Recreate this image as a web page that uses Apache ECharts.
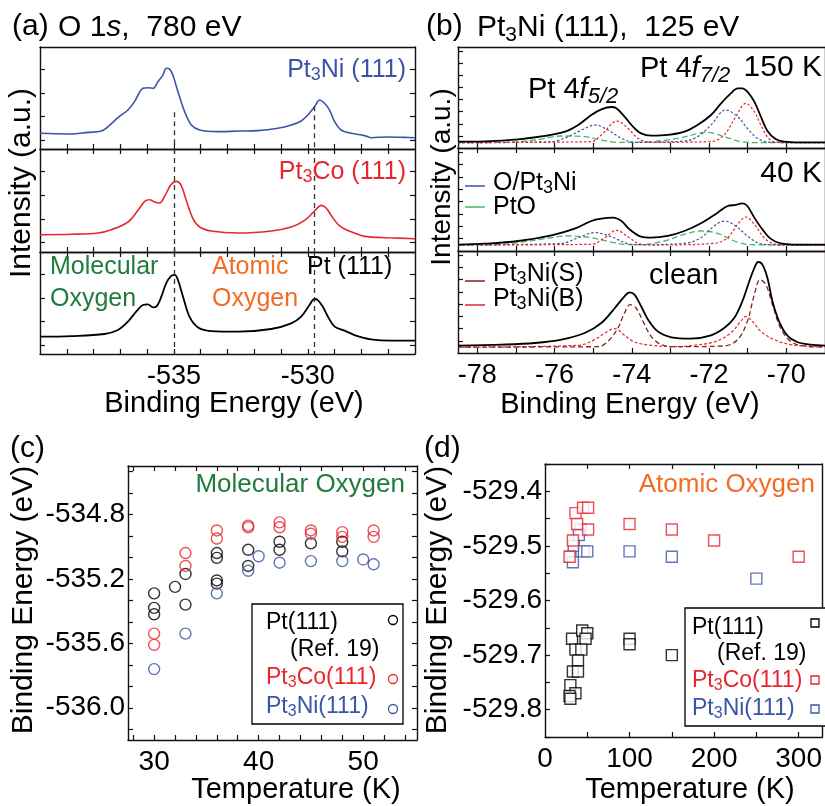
<!DOCTYPE html>
<html>
<head>
<meta charset="utf-8">
<script src="https://cdn.jsdelivr.net/npm/echarts@6/dist/echarts.min.js"></script>
<style>
  html, body { margin: 0; padding: 0; background: #fff; }
  #main { width: 825px; height: 806px; }
</style>
</head>
<body>
<div id="main"></div>
<script>
// ---- (a) O 1s spectra, 780 eV  [binding energy (eV), intensity (a.u.)]
const o1sPt3Ni = [[-540.0,15.4],[-539.45,15.0],[-538.83,14.7],[-538.21,16.3],[-537.71,17.6],[-537.46,21.9],[-537.09,30.7],[-536.72,38.2],[-536.47,46.4],[-536.34,52.9],[-536.16,59.5],[-535.97,60.1],[-535.78,59.5],[-535.60,66.0],[-535.41,72.5],[-535.29,79.1],[-535.16,78.4],[-535.04,72.5],[-534.85,56.2],[-534.60,36.6],[-534.35,23.5],[-534.04,18.6],[-533.36,17.0],[-532.61,17.6],[-531.87,18.0],[-531.12,20.3],[-530.62,23.5],[-530.25,27.5],[-530.0,33.3],[-529.75,41.5],[-529.56,48.0],[-529.38,44.8],[-529.19,38.2],[-529.0,26.8],[-528.76,18.6],[-528.38,15.4],[-527.89,13.1],[-527.64,11.1],[-527.01,11.8],[-526.39,11.4],[-526.0,11.1]];
const o1sPt3Co = [[-540.0,16.8],[-538.83,17.2],[-537.84,18.4],[-537.34,21.7],[-536.72,29.1],[-536.34,40.5],[-536.09,49.2],[-535.91,50.8],[-535.72,48.5],[-535.53,47.6],[-535.35,54.0],[-535.10,65.7],[-534.91,68.6],[-534.73,64.7],[-534.54,50.2],[-534.29,32.4],[-534.04,24.3],[-533.61,20.4],[-532.61,18.4],[-531.37,20.4],[-530.62,24.3],[-530.12,30.7],[-529.75,39.8],[-529.50,45.3],[-529.32,42.7],[-529.13,35.6],[-528.88,26.9],[-528.63,22.3],[-528.26,18.4],[-527.89,15.2],[-527.01,13.9],[-526.0,12.9]];
const o1sPt111 = [[-540.0,17.0],[-538.83,17.6],[-537.59,19.6],[-537.09,23.5],[-536.72,31.7],[-536.41,41.5],[-536.16,48.0],[-535.97,48.7],[-535.78,45.8],[-535.66,46.4],[-535.47,56.2],[-535.29,69.3],[-535.10,76.5],[-534.97,77.5],[-534.85,72.5],[-534.66,56.2],[-534.42,36.6],[-534.10,26.1],[-533.61,22.5],[-532.61,21.9],[-531.37,24.5],[-530.62,30.1],[-530.25,36.6],[-529.94,48.0],[-529.75,53.9],[-529.63,52.9],[-529.44,46.4],[-529.25,36.6],[-529.0,26.8],[-528.63,22.9],[-528.26,18.6],[-527.64,14.4],[-526.89,13.1],[-526.0,13.1]];
const o1sGuides = [-535.0, -529.75];

// ---- (b) Pt 4f spectra, 125 eV
const pt150Total = [[-78.5,6.3],[-77.80,6.6],[-76.94,8.6],[-76.25,11.9],[-75.73,16.2],[-75.39,22.8],[-75.05,32.7],[-74.79,38.3],[-74.53,40.6],[-74.40,39.3],[-74.19,31.0],[-73.97,21.1],[-73.76,14.5],[-73.50,12.2],[-73.07,12.9],[-72.64,16.2],[-72.30,22.8],[-71.95,32.7],[-71.69,44.2],[-71.44,54.1],[-71.26,59.1],[-71.14,59.1],[-71.01,55.8],[-70.83,45.9],[-70.66,31.0],[-70.49,16.8],[-70.28,8.9],[-70.06,6.3],[-69.63,5.6],[-69.0,5.6]];
const pt150Oads = [[-78.5,5.3],[-76.08,6.3],[-75.65,11.2],[-75.30,17.8],[-74.94,22.8],[-74.62,17.8],[-74.27,9.6],[-73.93,5.6],[-72.64,6.9],[-72.30,11.2],[-71.95,22.8],[-71.57,37.6],[-71.26,31.0],[-71.01,19.5],[-70.75,9.6],[-70.41,5.6],[-69.0,5.3]];
const pt150Bulk = [[-78.5,5.3],[-75.05,6.3],[-74.79,12.9],[-74.38,26.7],[-74.10,19.5],[-73.84,9.6],[-73.50,5.6],[-71.95,6.3],[-71.61,12.9],[-71.31,31.0],[-71.05,44.2],[-70.83,36.0],[-70.62,19.5],[-70.41,7.9],[-70.06,5.3],[-69.0,5.3]];
const pt150PtO = [[-78.5,5.3],[-77.37,5.6],[-76.51,7.9],[-75.82,11.9],[-75.22,11.2],[-74.79,7.9],[-74.36,5.6],[-73.50,6.3],[-72.81,9.6],[-72.04,15.5],[-71.61,11.2],[-71.18,6.3],[-70.75,5.3],[-69.0,5.3]];

const pt40Total = [[-78.5,6.2],[-77.80,7.1],[-76.94,9.7],[-76.08,15.2],[-75.48,21.7],[-75.05,29.1],[-74.79,31.4],[-74.49,32.4],[-74.27,29.1],[-74.06,21.0],[-73.76,13.9],[-73.50,12.9],[-73.07,14.6],[-72.64,19.4],[-72.21,26.9],[-71.78,37.2],[-71.52,43.7],[-71.31,44.7],[-71.14,46.3],[-71.01,43.7],[-70.83,32.4],[-70.62,21.0],[-70.41,12.0],[-70.15,7.4],[-69.63,6.2],[-69.0,6.2]];
const pt40Oads = [[-78.5,5.8],[-75.82,7.4],[-75.39,12.9],[-74.96,17.8],[-74.53,13.9],[-74.19,8.1],[-73.93,6.1],[-72.64,7.4],[-72.21,12.9],[-71.87,24.3],[-71.61,29.1],[-71.31,24.3],[-71.01,14.6],[-70.75,8.1],[-70.49,6.1],[-69.0,5.8]];
const pt40Bulk = [[-78.5,5.8],[-75.05,6.5],[-74.70,12.9],[-74.40,20.1],[-74.10,13.9],[-73.84,7.4],[-73.50,5.8],[-71.87,7.4],[-71.52,12.9],[-71.26,25.9],[-71.05,33.0],[-70.83,25.9],[-70.58,12.9],[-70.36,7.4],[-70.06,5.8],[-69.0,5.8]];
const pt40PtO = [[-78.5,5.8],[-77.62,6.1],[-76.94,8.1],[-76.25,12.0],[-75.65,14.6],[-75.05,12.9],[-74.53,8.7],[-74.10,6.1],[-73.84,6.1],[-73.16,9.7],[-72.64,16.2],[-72.21,19.4],[-71.78,17.2],[-71.35,9.7],[-70.92,6.1],[-69.0,5.8]];

const cleanTotal = [[-78.5,7.2],[-77.37,8.2],[-76.51,9.8],[-75.82,13.1],[-75.22,19.6],[-74.79,29.4],[-74.44,44.1],[-74.19,55.6],[-74.06,59.5],[-73.93,57.2],[-73.76,45.8],[-73.58,32.7],[-73.33,21.2],[-72.98,15.4],[-72.47,14.1],[-71.95,17.3],[-71.61,24.5],[-71.35,34.3],[-71.14,50.7],[-70.96,70.3],[-70.83,83.3],[-70.73,89.2],[-70.62,86.6],[-70.49,73.5],[-70.36,50.7],[-70.19,31.0],[-69.98,17.3],[-69.72,10.8],[-69.37,8.2],[-69.0,7.2]];
const cleanSurf = [[-78.5,5.8],[-74.87,6.2],[-74.62,11.4],[-74.36,24.5],[-74.19,39.2],[-74.04,47.4],[-73.89,44.1],[-73.71,31.0],[-73.50,16.3],[-73.24,8.2],[-72.90,6.2],[-71.61,6.9],[-71.26,13.1],[-71.01,31.0],[-70.83,57.2],[-70.68,71.9],[-70.53,67.0],[-70.36,47.4],[-70.15,24.5],[-69.89,11.4],[-69.55,6.9],[-69.0,5.8]];
const cleanBulk = [[-78.5,5.8],[-75.39,7.5],[-74.96,13.1],[-74.70,19.6],[-74.44,23.9],[-74.19,17.3],[-73.93,10.8],[-73.50,7.5],[-72.81,6.2],[-72.47,7.2],[-71.87,10.8],[-71.44,19.6],[-71.18,31.0],[-71.05,35.9],[-70.88,31.0],[-70.66,21.2],[-70.32,13.1],[-69.89,8.2],[-69.37,6.5],[-69.0,6.2]];

// ---- (c) molecular oxygen  [temperature (K), binding energy (eV)]
const molPt111 = [[30,-535.29],[30,-535.38],[30,-535.42],[32,-535.25],[33,-535.17],[33,-535.36],[36,-535.04],[36,-535.07],[36,-535.21],[36,-535.23],[39,-535.02],[39,-535.12],[42,-534.97],[42,-535.02],[45,-534.98],[48,-534.97],[48,-535.03]];
const molPt3Co = [[30,-535.54],[30,-535.61],[33,-535.04],[33,-535.12],[36,-534.90],[36,-534.95],[39,-534.87],[39,-534.88],[42,-534.85],[42,-534.88],[45,-534.90],[45,-534.92],[48,-534.91],[48,-534.94],[51,-534.90],[51,-534.94]];
const molPt3Ni = [[30,-535.76],[33,-535.54],[36,-535.29],[39,-535.15],[40,-535.06],[42,-535.10],[45,-535.09],[48,-535.09],[50,-535.08],[51,-535.11]];

// ---- (d) atomic oxygen
const atoPt111 = [[32,-529.67],[44,-529.655],[50,-529.66],[48,-529.67],[36,-529.69],[43,-529.69],[39,-529.71],[33,-529.73],[39,-529.73],[30,-529.755],[36,-529.77],[29,-529.775],[30,-529.78],[100,-529.67],[100,-529.68],[150,-529.70]];
const atoPt3Co = [[36,-529.44],[45,-529.43],[51,-529.43],[38,-529.46],[51,-529.47],[33,-529.49],[29,-529.52],[100,-529.46],[150,-529.47],[200,-529.49],[300,-529.52]];
const atoPt3Ni = [[42,-529.47],[40,-529.48],[34,-529.50],[46,-529.51],[50,-529.51],[30,-529.52],[33,-529.53],[100,-529.51],[150,-529.52],[250,-529.56]];

// tick positions
const aTicksX = [-539,-538,-537,-536,-535,-534,-533,-532,-531,-530,-529,-528,-527];
const aLabelsX = [-535, -530];
const aTicksY = [9, 32, 55, 78];
const bTicksX = [-78,-77,-76,-75,-74,-73,-72,-71,-70];
const bLabelsX = [-78,-76,-74,-72,-70];
const bTicksY = [12, 24, 36, 48, 60, 72, 84, 96];
const cTicksX = [28,30,32,34,36,38,40,42,44,46,48,50,52,54];
const cLabelsX = [30, 40, 50];
const cTicksY = [-536.1333,-536.0,-535.8667,-535.7333,-535.6,-535.4667,-535.3333,-535.2,-535.0667,-534.9333,-534.8,-534.6667,-534.5333];
const cLabelsY = [-536.0, -535.6, -535.2, -534.8];
const dTicksX = [50, 100, 150, 200, 250, 300];
const dLabelsX = [0, 100, 200, 300];
const dTicksY = [-529.85,-529.8,-529.75,-529.7,-529.65,-529.6,-529.55,-529.5,-529.45,-529.4,-529.35];
const dLabelsY = [-529.8, -529.7, -529.6, -529.5, -529.4];

const FONT = '"Liberation Sans", Arial, Helvetica, sans-serif';
const BLUE = '#3a55a6', RED = '#e8262d', DARKRED = '#8a1f22', GREEN = '#4cb46c';
const TXT_GREEN = '#1f7c3c', ORANGE = '#f26d23';

const grids = [], xAxes = [], yAxes = [], series = [];

function mkAxis(gi, pos, min, max, ticks, labels, fs, margin, fmt) {
  return {
    type: 'value', gridIndex: gi, position: pos, min: min, max: max,
    axisLine: { show: true, onZero: false, lineStyle: { color: '#111', width: 1.4 } },
    axisTick: ticks ? { show: true, inside: true, length: 5, customValues: ticks, lineStyle: { color: '#111', width: 1.2 } } : { show: false },
    axisLabel: labels ? { show: true, customValues: labels, fontSize: fs, fontFamily: FONT, color: '#000', margin: margin, formatter: fmt } : { show: false },
    splitLine: { show: false }
  };
}

// one grid with mirrored axes, returns [xAxisIndex, yAxisIndex]
function addPanel(box, xc, yc) {
  const gi = grids.length;
  grids.push(Object.assign({ show: false }, box));
  const xi = xAxes.length;
  xAxes.push(mkAxis(gi, 'bottom', xc.min, xc.max, xc.ticks, xc.labels, xc.fs, xc.margin, xc.fmt));
  xAxes.push(mkAxis(gi, 'top', xc.min, xc.max, xc.topTicks ? xc.ticks : null, null));
  const yi = yAxes.length;
  yAxes.push(mkAxis(gi, 'left', yc.min, yc.max, yc.ticks, yc.labels, yc.fs, yc.margin, yc.fmt));
  yAxes.push(mkAxis(gi, 'right', yc.min, yc.max, yc.rightTicks ? yc.ticks : null, null));
  return [xi, yi];
}

function line(ax, data, color, width, type) {
  series.push({
    type: 'line', xAxisIndex: ax[0], yAxisIndex: ax[1], data: data,
    showSymbol: false, smooth: 0.35, silent: true,
    lineStyle: { color: color, width: width, type: type || 'solid' }
  });
  return series[series.length - 1];
}

function scatter(ax, data, symbol, color, fill) {
  series.push({
    type: 'scatter', xAxisIndex: ax[0], yAxisIndex: ax[1], data: data,
    symbol: symbol, symbolSize: 11,
    itemStyle: { color: fill, borderColor: color, borderWidth: 1.4 }
  });
}

// ---- panel (a)
const aBoxes = [{ left: 40, top: 47, width: 375, height: 102 }, { left: 40, top: 149, width: 375, height: 103 }, { left: 40, top: 252, width: 375, height: 102 }];
const aSets = [[o1sPt3Ni, BLUE, 1.6], [o1sPt3Co, RED, 1.6], [o1sPt111, '#000', 1.8]];
aBoxes.forEach((box, i) => {
  const ax = addPanel(box,
    { min: -540, max: -526, ticks: aTicksX, labels: i === 2 ? aLabelsX : null, fs: 27, margin: 9, topTicks: i > 0 },
    { min: 0, max: 100, ticks: aTicksY, rightTicks: true });
  const s = line(ax, aSets[i][0], aSets[i][1], aSets[i][2]);
  s.markLine = {
    silent: true, symbol: 'none', label: { show: false },
    lineStyle: { color: '#333', type: [5, 4], width: 1.3 },
    data: o1sGuides.map((e, k) => [{ coord: [e, i === 0 ? (k === 0 ? 36 : 42) : 100] }, { coord: [e, 0] }])
  };
});

// ---- panel (b)
const bBoxes = [{ left: 458, top: 47, width: 369, height: 101 }, { left: 458, top: 148, width: 369, height: 103 }, { left: 458, top: 251, width: 369, height: 102 }];
const bAx = bBoxes.map((box, i) => addPanel(box,
  { min: -78.5, max: -69, ticks: bTicksX, labels: i === 2 ? bLabelsX : null, fs: 27, margin: 9, topTicks: i > 0 },
  { min: 0, max: 100, ticks: bTicksY }));
[[pt150PtO, pt150Oads, pt150Bulk, pt150Total], [pt40PtO, pt40Oads, pt40Bulk, pt40Total]].forEach((set, i) => {
  line(bAx[i], set[0], GREEN, 1.3, [6, 3]);
  line(bAx[i], set[1], BLUE, 1.2, [2.5, 2]);
  line(bAx[i], set[2], RED, 1.2, [2.5, 2]);
  line(bAx[i], set[3], '#000', 1.8);
});
line(bAx[2], cleanBulk, RED, 1.2, [3, 2]);
line(bAx[2], cleanSurf, DARKRED, 1.3, [5, 3]);
line(bAx[2], cleanTotal, '#000', 1.8);

// ---- panel (c)
const cAx = addPanel({ left: 128, top: 466, width: 289, height: 274 },
  { min: 27.5, max: 55.15, ticks: cTicksX, labels: cLabelsX, fs: 28, margin: 8, topTicks: true },
  { min: -536.2, max: -534.5, ticks: cTicksY, labels: cLabelsY, fs: 28, margin: 3, fmt: v => v.toFixed(1), rightTicks: true });
scatter(cAx, molPt111, 'circle', '#000', 'rgba(0,0,0,0)');
scatter(cAx, molPt3Co, 'circle', RED, 'rgba(0,0,0,0)');
scatter(cAx, molPt3Ni, 'circle', BLUE, 'rgba(0,0,0,0)');

// ---- panel (d)
const dAx = addPanel({ left: 545, top: 464, width: 282, height: 273 },
  { min: 0, max: 328, ticks: dTicksX, labels: dLabelsX, fs: 28, margin: 8, topTicks: true },
  { min: -529.85, max: -529.35, ticks: dTicksY, labels: dLabelsY, fs: 28, margin: 3, fmt: v => v.toFixed(1) });
scatter(dAx, atoPt111, 'rect', '#000', '#fff');
scatter(dAx, atoPt3Ni, 'rect', BLUE, '#fff');
scatter(dAx, atoPt3Co, 'rect', RED, '#fff');

// ---- texts and legends
function txt(x, y, text, size, color, opt) {
  const o = opt || {};
  return {
    type: 'text', x: x, y: y, rotation: o.rot || 0, silent: true, z: 100,
    style: {
      text: text, fill: color || '#000', fontSize: size, fontFamily: FONT,
      align: o.align || 'left', textAlign: o.align || 'left',
      verticalAlign: 'middle', textVerticalAlign: 'middle',
      rich: o.rich
    }
  };
}
const subRich = (size) => ({ s: { fontSize: Math.round(size * 0.7), padding: [Math.round(size * 0.45), 0, 0, 0] } });
const fRich = { i: { fontStyle: 'italic', fontSize: 29 }, s: { fontStyle: 'italic', fontSize: 22, padding: [14, 0, 0, 0] } };

const graphics = [
  txt(12, 27, '(a)', 30), txt(58, 28, 'O 1{i|s},  780 eV', 30, '#000', { rich: { i: { fontStyle: 'italic', fontSize: 30 } } }),
  txt(426, 27, '(b)', 30), txt(477, 28, 'Pt{s|3}Ni (111),  125 eV', 30, '#000', { rich: subRich(30) }),
  txt(10, 449, '(c)', 30), txt(424, 449, '(d)', 30),
  txt(22, 183, 'Intensity (a.u.)', 30, '#000', { rot: Math.PI / 2, align: 'center' }),
  txt(442, 177, 'Intensity (a.u.)', 28, '#000', { rot: Math.PI / 2, align: 'center' }),
  txt(234, 404, 'Binding Energy (eV)', 29, '#000', { align: 'center' }),
  txt(630, 405, 'Binding Energy (eV)', 29, '#000', { align: 'center' }),
  txt(24, 600, 'Binding Energy (eV)', 30, '#000', { rot: Math.PI / 2, align: 'center' }),
  txt(438, 600, 'Binding Energy (eV)', 30, '#000', { rot: Math.PI / 2, align: 'center' }),
  txt(296, 790, 'Temperature (K)', 29, '#000', { align: 'center' }),
  txt(690, 790, 'Temperature (K)', 29, '#000', { align: 'center' }),
  // (a) labels
  txt(406, 70, 'Pt{s|3}Ni (111)', 25, BLUE, { align: 'right', rich: subRich(25) }),
  txt(406, 172, 'Pt{s|3}Co (111)', 25, RED, { align: 'right', rich: subRich(25) }),
  txt(50, 267, 'Molecular', 25, TXT_GREEN), txt(50, 299, 'Oxygen', 25, TXT_GREEN),
  txt(212, 267, 'Atomic', 25, ORANGE), txt(212, 299, 'Oxygen', 25, ORANGE),
  txt(307, 267, 'Pt (111)', 25, '#000'),
  // (b) labels
  txt(528, 90, 'Pt 4{i|f}{s|5/2}', 29, '#000', { rich: fRich }),
  txt(640, 69, 'Pt 4{i|f}{s|7/2}', 29, '#000', { rich: fRich }),
  txt(822, 68, '150 K', 30, '#000', { align: 'right' }),
  txt(822, 174, '40 K', 30, '#000', { align: 'right' }),
  txt(649, 276, 'clean', 29, '#000'),
  { type: 'line', silent: true, shape: { x1: 465, y1: 186, x2: 485, y2: 186 }, style: { stroke: BLUE, lineWidth: 1.5 } },
  { type: 'line', silent: true, shape: { x1: 465, y1: 207, x2: 485, y2: 207 }, style: { stroke: GREEN, lineWidth: 1.5 } },
  { type: 'line', silent: true, shape: { x1: 465, y1: 281, x2: 485, y2: 281 }, style: { stroke: DARKRED, lineWidth: 1.5 } },
  { type: 'line', silent: true, shape: { x1: 465, y1: 305, x2: 485, y2: 305 }, style: { stroke: RED, lineWidth: 1.5 } },
  txt(493, 183, 'O/Pt{s|3}Ni', 25, '#000', { rich: subRich(25) }),
  txt(493, 207, 'PtO', 25, '#000'),
  txt(493, 274, 'Pt{s|3}Ni(S)', 25, '#000', { rich: subRich(25) }),
  txt(493, 299, 'Pt{s|3}Ni(B)', 25, '#000', { rich: subRich(25) }),
  // (c) title + legend
  txt(405, 485, 'Molecular Oxygen', 26, TXT_GREEN, { align: 'right' }),
  { type: 'rect', silent: true, shape: { x: 252, y: 604, width: 151, height: 120 }, style: { fill: '#fff', stroke: '#000', lineWidth: 1.3 }, z: 90 },
  txt(266, 623, 'Pt(111)', 23, '#000'),
  txt(290, 650, '(Ref. 19)', 23, '#000'),
  txt(266, 678, 'Pt{s|3}Co(111)', 23, RED, { rich: subRich(23) }),
  txt(266, 707, 'Pt{s|3}Ni(111)', 23, BLUE, { rich: subRich(23) }),
  { type: 'circle', silent: true, z: 100, shape: { cx: 393, cy: 620, r: 4.5 }, style: { fill: 'none', stroke: '#000', lineWidth: 1.3 } },
  { type: 'circle', silent: true, z: 100, shape: { cx: 393, cy: 679, r: 4.5 }, style: { fill: 'none', stroke: RED, lineWidth: 1.3 } },
  { type: 'circle', silent: true, z: 100, shape: { cx: 393, cy: 709, r: 4.5 }, style: { fill: 'none', stroke: BLUE, lineWidth: 1.3 } },
  // (d) title + legend
  txt(815, 485, 'Atomic Oxygen', 26, ORANGE, { align: 'right' }),
  { type: 'rect', silent: true, shape: { x: 685, y: 608, width: 145, height: 118 }, style: { fill: '#fff', stroke: '#000', lineWidth: 1.3 }, z: 90 },
  txt(692, 628, 'Pt(111)', 23, '#000'),
  txt(717, 654, '(Ref. 19)', 23, '#000'),
  txt(692, 681, 'Pt{s|3}Co(111)', 23, RED, { rich: subRich(23) }),
  txt(692, 709, 'Pt{s|3}Ni(111)', 23, BLUE, { rich: subRich(23) }),
  { type: 'rect', silent: true, z: 100, shape: { x: 811, y: 619, width: 8, height: 8 }, style: { fill: 'none', stroke: '#000', lineWidth: 1.3 } },
  { type: 'rect', silent: true, z: 100, shape: { x: 811, y: 676, width: 8, height: 8 }, style: { fill: 'none', stroke: RED, lineWidth: 1.3 } },
  { type: 'rect', silent: true, z: 100, shape: { x: 811, y: 705, width: 8, height: 8 }, style: { fill: 'none', stroke: BLUE, lineWidth: 1.3 } }
];

const chart = echarts.init(document.getElementById('main'), null, { renderer: 'canvas' });
chart.setOption({
  animation: false,
  backgroundColor: '#fff',
  grid: grids,
  xAxis: xAxes,
  yAxis: yAxes,
  series: series,
  graphic: graphics
});
</script>
</body>
</html>
